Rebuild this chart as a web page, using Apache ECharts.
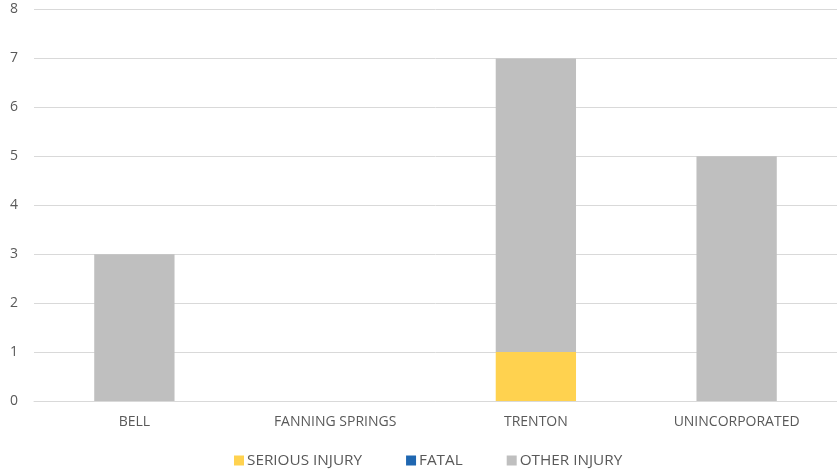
<!DOCTYPE html>
<html><head><meta charset="utf-8">
<script src="https://cdn.jsdelivr.net/npm/echarts@6/dist/echarts.min.js"></script>
<style>html,body{margin:0;padding:0;background:#fff}#c{width:837px;height:470px}</style>
</head><body><div id="c"></div>
<script>
const categories = ['BELL', 'FANNING SPRINGS', 'TRENTON', 'UNINCORPORATED'];
const seriousInjury = [0, 0, 1, 0];
const fatal = [0, 0, 0, 0];
const otherInjury = [3, 0, 6, 5];
const yTicks = {min: 0, max: 8, interval: 1};

const chart = echarts.init(document.getElementById('c'), null, {renderer: 'canvas'});
const font = '"Open Sans", "Liberation Sans", sans-serif';
const txt = '#595959';
function mk(name, data, color) {
  return {name, type: 'bar', stack: 'total', data, barWidth: '40%',
    itemStyle: {color}, emphasis: {disabled: true}};
}
chart.setOption({
  animation: false,
  grid: {left: 34, width: 808, top: 9.5, bottom: 69, containLabel: false},
  legend: {
    top: 448, left: 229, itemWidth: 10, itemHeight: 10, itemGap: 44,
    icon: 'rect',
    textStyle: {color: txt, fontSize: 15.3, fontFamily: font, padding: [0, 0, 0, -2]},
    data: ['SERIOUS INJURY', 'FATAL', 'OTHER INJURY']
  },
  xAxis: {
    type: 'category', data: categories,
    axisLine: {show: true, lineStyle: {color: '#d9d9d9', width: 1}},
    axisTick: {show: false},
    axisLabel: {color: txt, fontSize: 14, fontFamily: font, margin: 14}
  },
  yAxis: {
    type: 'value', min: yTicks.min, max: yTicks.max, interval: yTicks.interval,
    axisLine: {show: false}, axisTick: {show: false},
    splitLine: {lineStyle: {color: '#d9d9d9', width: 1}},
    axisLabel: {color: txt, fontSize: 14, fontFamily: font, margin: 16}
  },
  series: [
    mk('SERIOUS INJURY', seriousInjury, '#FFD24F'),
    mk('FATAL', fatal, '#1F67B1'),
    mk('OTHER INJURY', otherInjury, '#BFBFBF')
  ]
});
</script></body></html>
